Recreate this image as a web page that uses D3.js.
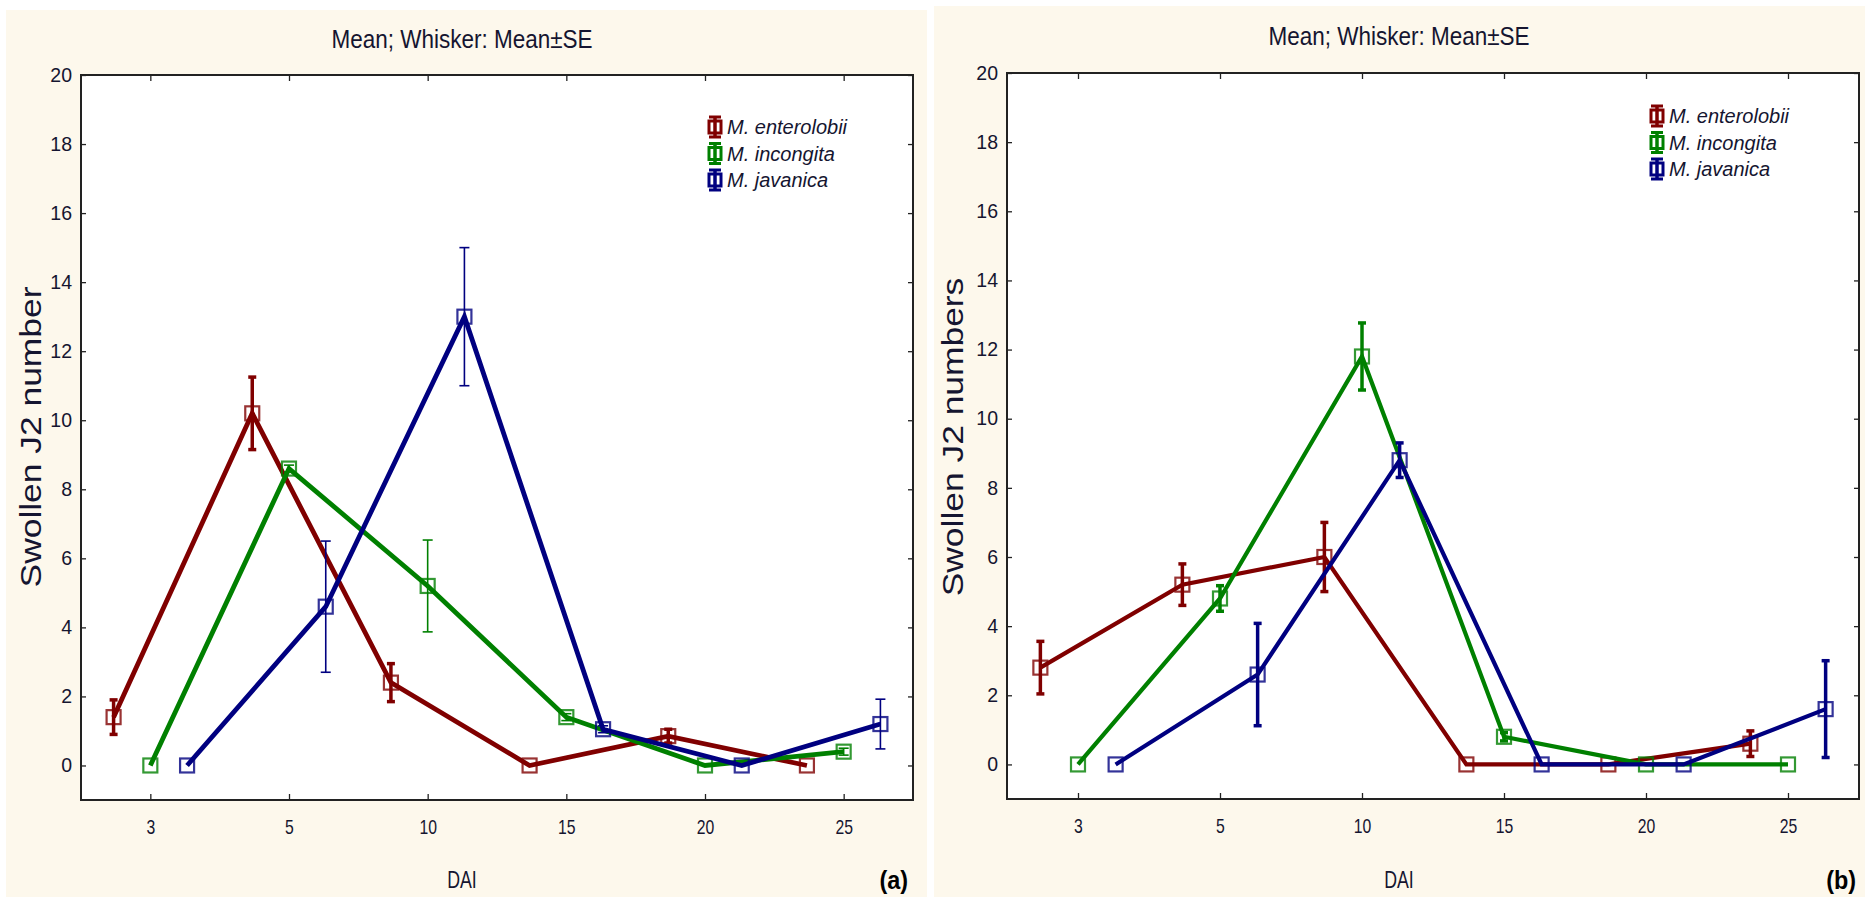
<!DOCTYPE html>
<html>
<head>
<meta charset="utf-8">
<script src="https://cdn.jsdelivr.net/npm/d3@7"></script>
<style>
  html, body { margin: 0; padding: 0; background: #ffffff; }
  svg { display: block; }
  .sans { font-family: "Liberation Sans", Arial, sans-serif; }
</style>
</head>
<body>
<svg id="chart" width="1865" height="897"></svg>
<script>
// ---------- data ----------
const categories = ["3", "5", "10", "15", "20", "25"];
const seriesNames = ["M. enterolobii", "M. incongita", "M. javanica"];
const yTicks = [0, 2, 4, 6, 8, 10, 12, 14, 16, 18, 20];

// Panel (a): means and standard errors
const meanA_enterolobii = [1.4, 10.2, 2.4, 0, 0.85, 0];
const seA_enterolobii   = [0.5, 1.05, 0.55, 0, 0.2, 0];
const meanA_incognita   = [0, 8.6, 5.2, 1.4, 0, 0.4];
const seA_incognita     = [0, 0.1, 1.33, 0.1, 0, 0.1];
const meanA_javanica    = [0, 4.6, 13.0, 1.05, 0, 1.2];
const seA_javanica      = [0, 1.9, 2.0, 0.1, 0, 0.72];

// Panel (b): means and standard errors
const meanB_enterolobii = [2.8, 5.2, 6.0, 0, 0, 0.6];
const seB_enterolobii   = [0.76, 0.6, 1.0, 0, 0, 0.37];
const meanB_incognita   = [0, 4.8, 11.8, 0.8, 0, 0];
const seB_incognita     = [0, 0.37, 0.97, 0.12, 0, 0];
const meanB_javanica    = [0, 2.6, 8.8, 0, 0, 1.6];
const seB_javanica      = [0, 1.48, 0.5, 0, 0, 1.4];

// ---------- styling ----------
const colors = ["#800000", "#008000", "#000080"];
const offsets = [-0.265, 0, 0.265];
const cream = "#fdf8ec";
const ink = "#151530";

const svg = d3.select("#chart");

function drawPanel(cfg) {
  const g = svg.append("g");
  // background
  g.append("rect").attr("x", cfg.bg[0]).attr("y", cfg.bg[1])
    .attr("width", cfg.bg[2]).attr("height", cfg.bg[3]).attr("fill", cream);

  const x = d3.scaleBand().domain(categories).range([cfg.left, cfg.right]).padding(0);
  const bw = x.bandwidth();
  const y = d3.scaleLinear().domain([-1, 20]).range([cfg.bottom, cfg.top]);

  // plot area
  g.append("rect").attr("x", cfg.left).attr("y", cfg.top)
    .attr("width", cfg.right - cfg.left).attr("height", cfg.bottom - cfg.top)
    .attr("fill", "#ffffff");

  // axes
  const yAxisL = d3.axisLeft(y).tickValues(yTicks).tickSizeInner(-5).tickSizeOuter(0).tickPadding(9);
  const yAxisR = d3.axisRight(y).tickValues(yTicks).tickSizeInner(-5).tickSizeOuter(0).tickFormat("");
  const xPos = d => x(d) + bw / 2;
  const xScaleCenters = d3.scalePoint().domain(categories).range([cfg.left + bw / 2, cfg.right - bw / 2]);
  const xAxisB = d3.axisBottom(xScaleCenters).tickSizeInner(-6).tickSizeOuter(0).tickPadding(19);
  const xAxisT = d3.axisTop(xScaleCenters).tickSizeInner(-6).tickSizeOuter(0).tickFormat("");

  const gyl = g.append("g").attr("transform", `translate(${cfg.left},0)`).call(yAxisL);
  gyl.selectAll("text").attr("class", "sans").attr("font-size", 19.5).attr("fill", ink);
  const gyr = g.append("g").attr("transform", `translate(${cfg.right},0)`).call(yAxisR);
  const gxb = g.append("g").attr("transform", `translate(0,${cfg.bottom})`).call(xAxisB);
  gxb.selectAll("text").attr("class", "sans").attr("font-size", 21).attr("fill", ink)
    .attr("transform", "scale(0.75,1)");
  const gxt = g.append("g").attr("transform", `translate(0,${cfg.top})`).call(xAxisT);
  [gyl, gyr, gxb, gxt].forEach(a => {
    a.select(".domain").remove();
    a.selectAll(".tick line").attr("stroke", "#222").attr("stroke-width", 1.3);
  });

  // frame
  g.append("rect").attr("x", cfg.left).attr("y", cfg.top)
    .attr("width", cfg.right - cfg.left).attr("height", cfg.bottom - cfg.top)
    .attr("fill", "none").attr("stroke", "#222").attr("stroke-width", 2);

  // series
  cfg.series.forEach((s, i) => {
    const pts = categories.map((c, k) => ({
      x: xPos(c) + offsets[i] * bw, m: s.mean[k], se: s.se[k]
    }));
    const line = d3.line().x(d => d.x).y(d => y(d.m));
    g.append("path").datum(pts).attr("d", line)
      .attr("fill", "none").attr("stroke", colors[i])
      .attr("stroke-width", cfg.lineWidth).attr("stroke-linejoin", "miter");
    // whiskers
    const thick = cfg.thickWhisker[i];
    const wg = g.append("g").attr("stroke", colors[i]);
    pts.filter(d => d.se > 0).forEach(d => {
      wg.append("line").attr("x1", d.x).attr("x2", d.x)
        .attr("y1", y(d.m - d.se)).attr("y2", y(d.m + d.se))
        .attr("stroke-width", thick ? 3.5 : 1.6);
      [d.m - d.se, d.m + d.se].forEach(v => {
        wg.append("line").attr("x1", d.x - (thick ? 4 : 5)).attr("x2", d.x + (thick ? 4 : 5))
          .attr("y1", y(v)).attr("y2", y(v))
          .attr("stroke-width", thick ? 3.5 : 1.6);
      });
    });
    // markers
    g.append("g").selectAll("rect").data(pts).join("rect")
      .attr("x", d => d.x - 7).attr("y", d => y(d.m) - 7)
      .attr("width", 14).attr("height", 14)
      .attr("fill", "none").attr("stroke", colors[i]).attr("stroke-opacity", 0.8)
      .attr("stroke-width", 2.2);
  });

  // legend
  seriesNames.forEach((n, i) => {
    const ly = cfg.legend[1] + i * 26.5;
    const lx = cfg.legend[0];
    const lg = g.append("g");
    lg.append("line").attr("x1", lx).attr("x2", lx).attr("y1", ly - 11).attr("y2", ly + 11)
      .attr("stroke", colors[i]).attr("stroke-width", 3.5);
    [ly - 10, ly + 10].forEach(v => lg.append("line").attr("x1", lx - 6).attr("x2", lx + 6)
      .attr("y1", v).attr("y2", v).attr("stroke", colors[i]).attr("stroke-width", 3));
    lg.append("rect").attr("x", lx - 6).attr("y", ly - 6).attr("width", 12).attr("height", 12)
      .attr("fill", "none").attr("stroke", colors[i]).attr("stroke-width", 3);
    lg.append("text").attr("class", "sans").attr("x", lx + 12).attr("y", ly + 7)
      .attr("font-size", 20).attr("font-style", "italic").attr("fill", ink).text(n);
  });

  // titles
  g.append("text").attr("class", "sans")
    .attr("transform", `translate(${cfg.titleX},${cfg.titleY}) scale(0.9,1)`)
    .attr("text-anchor", "middle").attr("font-size", 25).attr("fill", ink)
    .text("Mean; Whisker: Mean\u00B1SE");
  g.append("text").attr("class", "sans")
    .attr("transform", `translate(${cfg.titleX},888) scale(0.74,1)`)
    .attr("text-anchor", "middle").attr("font-size", 24).attr("fill", ink).text("DAI");
  g.append("text").attr("class", "sans")
    .attr("transform", `translate(${cfg.yTitleX},${cfg.yTitleY}) rotate(-90) scale(1.18,1)`)
    .attr("text-anchor", "middle").attr("font-size", 30).attr("fill", ink).text(cfg.yTitle);
  g.append("text").attr("class", "sans")
    .attr("transform", `translate(${cfg.tagX},889) scale(0.9,1)`)
    .attr("text-anchor", "end").attr("font-size", 26).attr("font-weight", "bold")
    .attr("fill", "#000").text(cfg.tag);
}

drawPanel({
  bg: [6, 10, 921, 887],
  left: 81, right: 913, top: 75, bottom: 800,
  lineWidth: 4.8,
  thickWhisker: [true, false, false],
  series: [
    { mean: meanA_enterolobii, se: seA_enterolobii },
    { mean: meanA_incognita, se: seA_incognita },
    { mean: meanA_javanica, se: seA_javanica }
  ],
  legend: [715, 127],
  titleX: 462, titleY: 48,
  yTitle: "Swollen J2 number", yTitleX: 41, yTitleY: 437,
  tag: "(a)", tagX: 908
});

drawPanel({
  bg: [934, 6, 931, 891],
  left: 1007, right: 1859, top: 73, bottom: 799,
  lineWidth: 4.2,
  thickWhisker: [true, true, true],
  series: [
    { mean: meanB_enterolobii, se: seB_enterolobii },
    { mean: meanB_incognita, se: seB_incognita },
    { mean: meanB_javanica, se: seB_javanica }
  ],
  legend: [1657, 116],
  titleX: 1399, titleY: 45,
  yTitle: "Swollen J2 numbers", yTitleX: 963, yTitleY: 437,
  tag: "(b)", tagX: 1856
});
</script>
</body>
</html>
